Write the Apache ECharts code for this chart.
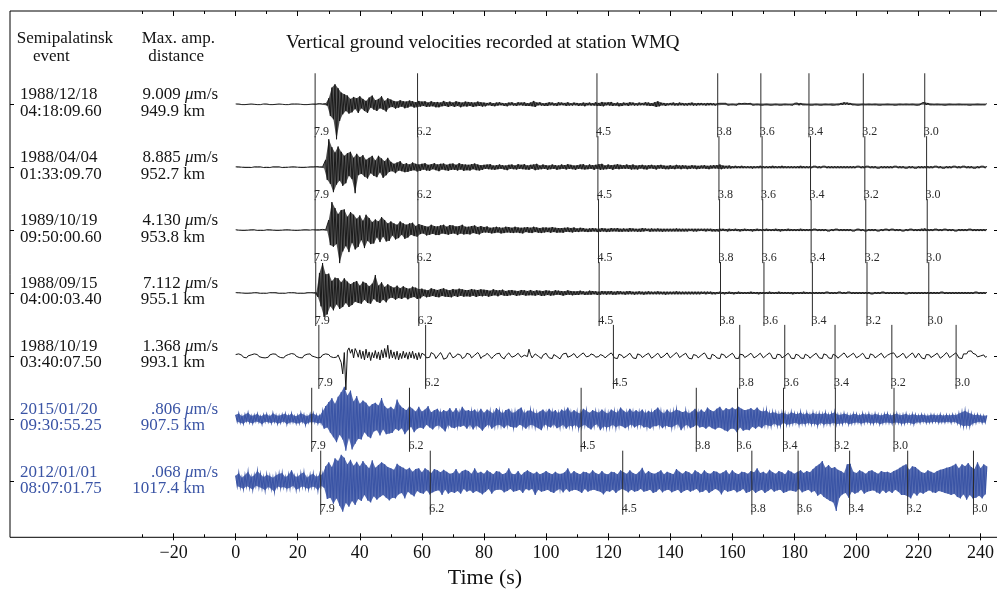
<!DOCTYPE html>
<html><head><meta charset="utf-8">
<script src="https://cdn.jsdelivr.net/npm/echarts@6/dist/echarts.min.js"></script>
<style>html,body{margin:0;padding:0;background:#fff}#c{width:997px;height:591px}</style>
</head><body><div id="c"></div>
<script>
// ---------------- data ----------------
const eventDates = ['1988/12/18','1988/04/04','1989/10/19','1988/09/15','1988/10/19','2015/01/20','2012/01/01'];
const eventTimes = ['04:18:09.60','01:33:09.70','09:50:00.60','04:00:03.40','03:40:07.50','09:30:55.25','08:07:01.75'];
const maxAmps = ['9.009','8.885','4.130','7.112','1.368','.806','.068'];
const distances = ['949.9','952.7','953.8','955.1','993.1','907.5','1017.4'];
const velocityLabels = ['7.9','6.2','4.5','3.8','3.6','3.4','3.2','3.0'];
// arrival time (s) of each group velocity on each trace
const markerTimes = [
  [25.6, 58.6, 116.4, 155.3, 169.2, 184.7, 202.2, 222.0],
  [25.6, 58.7, 116.7, 155.7, 169.6, 185.2, 202.7, 222.6],
  [25.6, 58.7, 116.9, 155.9, 169.8, 185.4, 203.0, 222.8],
  [25.8, 59.0, 117.1, 156.2, 170.2, 185.8, 203.4, 223.3],
  [26.8, 61.2, 121.7, 162.4, 176.9, 193.1, 211.4, 232.1],
  [24.5, 56.0, 111.3, 148.4, 161.7, 176.5, 193.2, 212.1],
  [27.4, 62.7, 124.7, 166.3, 181.2, 197.8, 216.5, 237.7]
];
const majorTicks = [-20,0,20,40,60,80,100,120,140,160,180,200,220,240];
const minorTicks = [-30,-10,10,30,50,70,90,110,130,150,170,190,210,230];
const traceTicks = [0,-1,-2,-3,-4,-5,-6];
const dt = 0.5; // sample interval of the waveforms (s), first sample at t = 0
// relative vertical velocity, each trace normalised to its own maximum (~100)
const wave1 = [
1,-1,1,0,-1,1,-1,1,0,-1, 1,-1,0,1,-1,1,-1,0,1,-1, 1,0,-1,1,-1,1,0,-1,1,-1, 0,1,-1,1,-1,0,1,-1,1,-1,
1,-1,0,1,-1,1,-1,1,0,-1, 1,-2,1,-1,2,-1,1,-2,2,-4, 18,-35,50,-45,60,-105,48,-50,35,-30, 30,-20,26,-28,16,-24,22,-14,18,-26,
24,-12,16,-20,10,-26,20,-10,26,-16, 12,-20,16,-12,24,-16,10,-22,18,-10, 14,-8,10,-13,8,-10,12,-7,9,-12, 8,-10,11,-6,9,-10,6,-9,10,-7,
8,-5,9,-8,5,-7,9,-6,6,-9, 7,-9,5,-6,10,-5,6,-8,8,-5, 5,-8,9,-5,7,-9,5,-6,8,-7, 7,-5,6,-8,5,-6,8,-5,6,-7,
5,-6,4,-3,6,-5,3,-6,5,-4, 6,-3,4,-5,3,-6,5,-3,6,-4, 3,-5,6,-3,5,-4,6,-5,3,-5, 5,-6,10,-8,5,-3,6,-4,3,-5,
4,-5,6,-3,5,-4,3,-5,6,-3, 5,-3,4,-5,6,-4,3,-4,5,-3, 4,-5,3,-4,5,-6,4,-3,5,-4, 3,-4,6,-5,4,-5,7,-6,5,-3,
6,-4,7,-5,3,-4,5,-6,3,-5, 5,-3,4,-5,6,-3,5,-4,3,-4, 5,-3,4,-3,6,-4,5,-5,3,-5, 6,-8,9,-6,5,-3,4,-5,3,-3,
4,-3,5,-4,3,-4,5,-3,4,-4, 3,-4,4,-3,5,-4,3,-4,4,-3, 4,-3,3,-4,4,-3,4,-3,3,-4, 2,-3,3,-2,3,-2,3,-3,2,-2,
3,-2,2,-3,3,-2,2,-2,3,-2, 2,-2,3,-3,2,-2,3,-2,2,-3, 2,-2,3,-2,2,-3,2,-2,3,-2, 2,-3,2,-2,3,-2,2,-2,2,-3,
3,-2,4,-3,4,-2,3,-2,2,-2, 2,-3,2,-2,3,-2,2,-3,2,-2, 3,-2,2,-2,3,-3,2,-2,3,-2, 4,-2,6,-1,5,-2,4,-2,3,-2,
2,-3,2,-2,3,-2,2,-2,3,-2, 2,-2,3,-2,2,-3,2,-2,2,-2, 3,-2,2,-2,2,-3,2,-2,3,-2, 2,-2,3,-2,2,-2,3,-2,2,-3,
2,-2,4,-1,6,-2,4,-2,3,-2, 2,-2,3,-2,2,-2,2,-3,2,-2, 3,-2,2,-2,2,-2,3,-2,2,-2, 2,-2,2,-3,2,-2,2,-2,3,-2,
2,-2,2,-2,2
];
const wave2 = [
1,-1,1,-1,0,1,-1,1,-1,1, -1,0,1,-1,1,-1,1,0,-1,1, -1,1,-1,0,1,-1,1,-1,1,0, -1,1,-1,1,0,-1,1,-1,1,-1,
0,1,-1,1,-1,1,0,-1,1,-1, 1,-1,2,-1,1,-2,1,-3,22,-38, 84,-50,60,-75,44,-52,62,-40,46,-56, 34,-48,42,-26,46,-36,28,-78,40,-24,
30,-20,36,-28,22,-34,28,-18,34,-26, 20,-30,34,-16,26,-32,18,-24,28,-14, 16,-12,10,-18,14,-10,18,-12,9,-15, 12,-14,8,-11,14,-9,10,-13,8,-11,
10,-7,12,-10,7,-11,9,-6,12,-9, 8,-12,10,-7,11,-9,7,-11,10,-8, 11,-8,7,-10,12,-7,9,-11,8,-9, 7,-10,9,-6,11,-9,8,-10,6,-8,
7,-5,8,-6,9,-7,5,-8,6,-6, 8,-5,6,-7,5,-9,7,-5,8,-6, 5,-7,9,-5,7,-6,9,-7,5,-8, 7,-5,8,-9,10,-7,5,-6,8,-5,
6,-8,5,-6,8,-5,6,-8,5,-6, 8,-5,6,-7,9,-5,7,-6,5,-8, 6,-5,8,-6,9,-7,5,-6,8,-5, 6,-8,7,-5,9,-8,10,-7,5,-6,
8,-5,6,-8,7,-5,9,-6,7,-5, 6,-5,8,-5,6,-7,8,-6,5,-7, 6,-4,7,-6,5,-7,6,-4,7,-5, 5,-7,6,-4,7,-5,5,-6,4,-6,
6,-5,4,-6,7,-4,5,-6,6,-4, 5,-6,4,-5,6,-4,5,-6,4,-5, 5,-4,6,-5,4,-6,5,-4,6,-4, 6,-5,8,-6,5,-4,4,-4,5,-4,
3,-3,4,-3,3,-3,4,-3,3,-3, 3,-3,3,-4,3,-3,3,-3,4,-3, 3,-3,3,-3,3,-3,4,-3,3,-3, 3,-3,4,-3,3,-3,3,-3,3,-3,
3,-3,3,-3,4,-3,3,-3,3,-3, 3,-3,3,-2,3,-3,3,-3,3,-2, 3,-3,3,-3,3,-3,3,-3,3,-3, 3,-3,3,-3,3,-3,3,-3,3,-3,
3,-2,3,-3,3,-3,3,-2,3,-3, 3,-3,3,-3,2,-3,3,-3,3,-3, 3,-3,3,-3,3,-2,3,-3,3,-3, 3,-3,2,-3,3,-3,3,-3,2,-3,
3,-3,3,-3,3,-3,3,-3,3,-3, 3,-2,3,-3,3,-3,2,-3,3,-3, 3,-3,3,-2,3,-3,3,-3,3,-2, 3,-3,3,-3,3,-3,2,-3,3,-3,
3,-2,3,-3,3
];
const wave3 = [
1,-1,0,1,-1,1,-1,1,0,-1, 1,-1,1,0,-1,1,-1,1,-1,0, 1,-1,1,-1,0,1,-1,1,-1,1, 0,-1,1,-1,1,-1,0,1,-1,1,
-1,1,0,-1,1,-1,1,-1,0,1, 1,-1,1,-2,1,-1,2,-1,1,-3, 30,-45,84,-50,66,-42,48,-99,60,-64, 62,-48,40,-66,54,-38,46,-58,34,-50,
44,-30,28,-54,46,-32,36,-42,24,-40, 32,-22,26,-36,39,-20,30,-34,20,-32, 26,-16,20,-28,16,-24,26,-14,20,-26, 16,-22,20,-14,22,-18,12,-20,18,-12,
15,-10,12,-16,10,-14,16,-11,12,-15, 11,-15,14,-10,16,-12,10,-14,15,-11, 14,-10,11,-15,12,-10,16,-13,10,-12, 10,-13,12,-9,14,-11,9,-13,12,-8,
9,-7,11,-8,7,-10,8,-9,10,-7, 8,-10,7,-9,10,-7,9,-8,7,-9, 10,-7,8,-9,7,-10,8,-6,9,-8, 7,-9,10,-6,8,-8,6,-9,8,-7,
8,-6,7,-8,9,-6,7,-8,6,-7, 6,-8,7,-5,8,-6,6,-7,8,-5, 5,-6,7,-4,6,-5,4,-6,5,-5, 6,-4,5,-6,4,-5,6,-4,5,-6,
4,-5,6,-4,5,-4,6,-5,4,-5, 5,-4,4,-5,6,-4,5,-4,4,-5, 4,-5,6,-4,5,-3,4,-5,5,-4, 4,-4,5,-4,4,-5,4,-4,4,-4,
4,-4,4,-4,5,-4,4,-4,4,-4, 4,-4,4,-3,4,-4,4,-4,4,-3, 4,-3,4,-4,4,-3,4,-4,3,-4, 3,-4,4,-3,4,-3,3,-4,4,-3,
3,-3,4,-3,3,-4,3,-3,4,-3, 3,-3,3,-4,3,-3,4,-3,3,-3, 3,-3,4,-3,3,-3,3,-3,4,-3, 3,-4,3,-3,3,-3,4,-3,3,-3,
3,-3,3,-3,4,-3,3,-3,3,-3, 3,-3,3,-2,3,-3,3,-3,3,-3, 3,-3,2,-3,3,-3,3,-2,3,-3, 3,-3,3,-3,3,-3,3,-3,2,-3,
3,-2,3,-3,3,-3,2,-3,3,-3, 3,-3,3,-3,2,-3,3,-3,3,-2, 3,-3,3,-2,3,-3,3,-3,3,-3, 2,-3,3,-3,3,-2,3,-3,3,-3,
3,-3,4,-3,5,-3,3,-3,3,-3, 3,-2,3,-3,3,-3,3,-2,3,-3, 3,-3,3,-3,2,-3,3,-3,3,-3, 3,-3,3,-2,3,-3,3,-3,3,-3,
3,-3,3,-3,3
];
const wave4 = [
1,-1,1,-1,0,1,-1,1,-1,1, 0,-1,1,-1,1,0,-1,1,-1,1, -1,0,1,-1,1,-1,1,0,-1,1, -1,1,-1,0,1,-1,1,-1,1,0,
-1,1,-1,1,-1,0,1,-1,1,-1, 1,-2,1,-12,60,-40,90,-72,56,-64, 58,-40,36,-52,46,-34,44,-48,32,-42, 44,-30,34,-42,26,-36,32,-26,36,-30,
22,-32,34,-20,30,-30,20,-32,28,-18, 54,-26,22,-30,32,-20,18,-28,26,-16, 20,-14,16,-20,22,-15,14,-18,20,-13, 15,-19,13,-14,19,-12,16,-18,12,-16,
13,-9,10,-13,8,-11,14,-9,11,-12, 9,-13,12,-9,14,-11,10,-12,8,-13, 12,-9,10,-12,13,-8,11,-11,9,-10, 9,-11,12,-8,10,-12,9,-9,11,-10,
10,-8,9,-11,7,-9,11,-7,8,-10, 8,-6,10,-8,6,-9,8,-7,9,-6, 7,-9,6,-7,9,-6,8,-8,6,-7, 9,-7,6,-8,8,-6,7,-9,6,-8,
8,-6,7,-8,5,-7,8,-5,7,-6, 6,-8,5,-6,8,-5,6,-7,5,-6, 5,-6,7,-4,5,-6,4,-5,7,-5, 6,-4,5,-6,4,-5,6,-4,5,-5,
5,-4,6,-5,4,-5,6,-4,5,-4, 4,-5,5,-4,6,-4,4,-5,4,-4, 5,-4,4,-5,4,-4,5,-4,4,-4, 4,-4,5,-4,4,-4,4,-5,4,-4,
4,-4,4,-4,5,-4,4,-4,4,-4, 4,-4,4,-4,4,-4,4,-4,4,-4, 4,-3,4,-4,4,-3,4,-4,3,-4, 3,-3,4,-3,3,-4,3,-3,4,-3,
3,-4,3,-3,4,-3,3,-3,3,-3, 3,-3,4,-3,3,-3,3,-4,3,-3, 3,-3,3,-3,4,-3,3,-3,3,-3, 4,-3,3,-3,3,-3,3,-3,3,-4,
3,-3,3,-3,3,-3,4,-3,3,-3, 3,-3,3,-3,3,-3,3,-3,3,-3, 3,-2,3,-3,3,-3,3,-3,3,-2, 3,-3,3,-3,3,-2,3,-3,3,-3,
3,-3,3,-3,3,-3,3,-3,3,-3, 2,-3,3,-3,3,-3,3,-2,3,-3, 3,-3,3,-3,3,-3,3,-3,3,-3, 3,-3,2,-3,3,-3,3,-3,3,-3,
3,-3,3,-3,3,-3,3,-3,3,-3, 3,-3,3,-3,3,-2,3,-3,3,-3, 3,-3,3,-3,3,-3,3,-3,3,-3, 3,-3,3,-3,3,-3,3,-2,3,-3,
3,-3,3,-3,3
];
const wave5 = [
4,-1,6,1,2,-4,-2,-6,0,-3, 3,-1,6,2,4,-2,0,-5,-3,-6, -1,-4,3,0,6,2,5,-1,1,-5, -3,-6,0,-2,4,1,7,3,5,-1,
1,-5,-2,-6,1,-2,5,2,6,0, 3,-3,-1,-6,-2,-4,3,0,6,2, 4,-2,0,-5,-2,-4,3,-1,-20,-54, 10,-102,15,24,8,20,-6,22,12,-4,
18,-8,14,-12,20,-6,12,-14,10,-6, 16,-8,12,-12,18,-6,22,-4,32,-8, 18,-6,12,-10,14,-12,8,-8,14,-6, 10,-10,12,-6,14,-8,8,-12,10,-8,
8,12,2,-6,-10,-4,10,12,4,-8, -4,4,10,2,-10,-15,-6,4,10,2, -6,-10,0,6,10,2,-8,-11,-2,8, 10,4,-6,-9,2,-3,10,4,-8,-2,
-6,2,8,4,-2,-8,-2,-6,6,2, 8,-2,-4,-9,0,4,9,2,-4,-7, 0,-5,8,3,-4,-8,2,6,-2,20, 4,-6,0,6,8,-1,-6,-8,2,6,
8,0,-6,-2,-8,4,7,-2,-6,-9, 0,6,3,8,-4,-9,0,-4,7,2, -6,-8,2,-2,9,4,-3,-8,0,6, 9,2,-4,-9,-2,4,8,0,-6,-9,
2,-2,9,3,-6,-3,-8,5,8,1, -6,-9,0,-4,8,4,-6,-2,-8,6, 9,2,-5,-8,2,-3,8,3,-7,-9, 0,-4,8,2,-6,-8,0,-4,9,4,
-6,-9,2,-2,10,4,-5,-8,2,6, 8,0,-7,-3,-9,4,8,1,-6,-8, 2,-3,9,3,-7,-4,-9,5,8,0, -6,-2,-8,6,9,2,-6,-9,1,-3,
8,2,-7,-2,-8,5,9,3,-5,-8, 1,-3,8,2,-6,-9,0,-4,8,3, -6,-8,2,-3,9,3,-7,-3,-8,5, 9,3,-6,-9,0,-4,8,2,-7,-2,
-8,5,9,1,-6,-3,-8,5,8,0, -7,-9,1,-3,8,3,-6,-2,-8,6, 9,2,-6,-2,-8,5,8,0,-7,-9, 1,-3,9,3,-5,-8,1,-3,8,2,
-6,-9,0,-4,8,2,-7,-2,-8,6, 9,2,-6,-9,1,-3,8,3,-6,-8, 2,-2,7,2,9,3,-5,-8,0,-4, 8,2,-7,-9,1,-3,9,3,-6,-2,
8,2,-6,-2,-9,4,9,3,-5,-8, 1,-3,8,1,-7,-9,0,-3,10,4, -5,-8,2,-2,9,3,-6,-2,-8,6, 10,6,14,9,15,8,12,4,-3,-6,
0,5,3,-4,-2
];
const wave6 = [
12,-9,16,-12,8,-15,13,-7,18,-11, 9,-14,11,-8,15,-10,7,-16,12,-9, 14,-10,8,-13,17,-9,11,-15,9,-12, 13,-8,15,-16,9,-11,16,-10,8,-14,
10,-13,17,-9,12,-18,8,-11,14,-10, 16,-10,11,-14,9,-12,22,-30,38,-26, 50,-42,62,-55,45,-70,66,-48,80,-62, 96,-96,70,-58,85,-92,52,-75,68,-60,
45,-62,55,-40,48,-52,36,-58,44,-38, 48,-34,40,-50,62,-32,38,-46,30,-44, 36,-42,28,-30,58,-36,40,-28,32,-46, 26,-34,38,-24,30,-40,22,-30,36,-26,
22,-30,28,-18,38,-26,20,-32,26,-22, 30,-20,18,-28,26,-38,22,-18,32,-26, 20,-28,32,-22,18,-24,36,-20,24,-30, 26,-18,22,-32,28,-20,18,-26,30,-36,
18,-24,28,-16,22,-30,16,-22,32,-18, 24,-20,16,-28,26,-18,30,-24,18,-26, 20,-26,28,-18,34,-22,16,-30,24,-20, 26,-18,20,-24,16,-28,22,-34,28,-16,
18,-22,30,-26,20,-16,26,-28,16,-24, 28,-18,22,-30,34,-20,18,-24,26,-18, 20,-28,16,-22,30,-18,24,-26,18,-32, 26,-20,22,-16,18,-34,28,-22,20,-26,
16,-24,28,-18,22,-26,18,-20,34,-22, 24,-28,18,-22,30,-16,20,-26,26,-20, 20,-18,28,-26,16,-24,24,-30,18,-22, 26,-22,34,-18,22,-28,16,-20,28,-24,
18,-26,22,-20,28,-16,24,-34,20,-22, 24,-18,16,-28,22,-24,30,-18,18,-26, 28,-24,20,-30,34,-22,26,-28,22,-32, 30,-26,36,-28,24,-34,32,-38,28,-30,
34,-30,28,-40,36,-26,30,-36,26,-32, 28,-34,32,-24,26,-30,34,-22,24,-28, 22,-18,26,-20,16,-22,20,-14,18,-20, 14,-20,18,-12,16,-18,12,-16,20,-14,
16,-12,14,-18,20,-14,12,-16,18,-12, 12,-16,18,-14,14,-20,16,-12,14,-18, 18,-14,12,-16,16,-12,20,-16,12,-14, 12,-15,16,-10,13,-16,10,-14,15,-12,
14,-11,10,-15,16,-12,12,-10,15,-13, 11,-14,15,-10,12,-16,10,-13,14,-11, 15,-12,10,-14,13,-11,16,-12,11,-15, 12,-14,15,-11,10,-13,14,-16,12,-10,
10,-12,13,-9,11,-12,9,-11,12,-10, 12,-9,10,-12,13,-10,9,-11,12,-9, 10,-12,13,-9,11,-13,16,-18,20,-22, 24,-20,18,-22,15,-14,11,-12,13,-9,
10,-12,9,-11,10
];
const wave7 = [
18,-14,26,-17,12,-22,20,-13,30,-18, 14,-24,19,-12,32,-16,22,-20,13,-26, 21,-15,17,-22,12,-30,19,-14,24,-18, 26,-16,13,-21,20,-18,34,-12,16,-24,
15,-20,24,-14,28,-18,12,-22,20,-15, 24,-16,14,-26,20,-12,22,-18,46,-52, 58,-48,44,-66,70,-50,62,-72,81,-90, 72,-64,52,-75,66,-58,48,-70,60,-52,
46,-58,62,-40,50,-56,40,-62,64,-44, 42,-54,50,-46,58,-40,52,-48,44,-56, 40,-48,36,-50,54,-38,46,-34,42,-50, 36,-30,42,-38,30,-44,38,-28,40,-34,
28,-36,40,-26,34,-38,26,-32,38,-28, 34,-26,28,-40,36,-24,30,-36,24,-30, 26,-34,38,-28,24,-36,32,-22,36,-30, 32,-26,24,-34,40,-28,26,-32,30,-38,
24,-30,34,-22,28,-36,22,-26,32,-24, 30,-24,22,-32,26,-28,40,-22,24,-30, 22,-28,32,-24,20,-34,28,-22,34,-26, 28,-22,24,-40,30,-24,22,-30,26,-28,
32,-24,26,-30,22,-34,30,-26,24,-22, 24,-32,28,-22,40,-30,24,-26,32,-24, 26,-28,22,-34,30,-22,28,-30,24,-26, 34,-24,26,-28,22,-30,32,-38,24,-28,
22,-30,30,-24,28,-34,22,-26,34,-22, 28,-26,24,-32,34,-24,26,-30,22,-28, 30,-22,42,-30,24,-28,32,-24,26,-34, 24,-30,28,-22,34,-32,22,-26,30,-24,
26,-32,22,-28,38,-24,30,-34,24,-28, 32,-24,28,-30,22,-26,34,-22,28,-32, 22,-30,34,-24,26,-34,24,-28,32,-22, 30,-26,24,-38,28,-24,34,-30,22,-28,
34,-24,26,-32,22,-28,30,-22,28,-34, 24,-30,32,-24,28,-34,40,-28,26,-24, 30,-34,24,-28,36,-22,28,-30,24,-26, 32,-24,28,-34,22,-30,34,-26,30,-28,
24,-30,30,-22,34,-32,26,-28,32,-24, 28,-32,38,-28,46,-42,52,-36,62,-46, 42,-52,50,-58,40,-62,44,-88,36,-48, 32,-38,26,-34,52,-48,54,-30,30,-36,
26,-32,34,-24,30,-36,24,-30,32,-28, 34,-26,28,-32,24,-36,32,-26,28,-34, 30,-28,26,-34,32,-24,36,-30,42,-40, 48,-40,52,-44,36,-50,46,-34,44,-42,
36,-32,28,-36,26,-30,34,-26,30,-32, 26,-34,32,-28,36,-30,38,-34,42,-36, 44,-40,48,-36,54,-46,40,-50,52,-38, 46,-54,56,-40,44,-50,38,-48,58,-42,
40,-50,52,-38,46
];
const waves = [wave1, wave2, wave3, wave4, wave5, wave6, wave7];

// ---------------- styling ----------------
const BLACK = '#141414';
const BLUE = '#3a54a5';
const traceColors = [BLACK, BLACK, BLACK, BLACK, BLACK, BLUE, BLUE];
const traceWidths = [0.9, 0.9, 0.9, 0.9, 1.0, 1.1, 1.1];
// translucent fill between successive peaks and troughs (dense, high-frequency traces)
const fillOpacity = [0.72, 0.72, 0.72, 0.72, 0, 0.85, 0.85];
const FONT = '"Liberation Serif", "Times New Roman", serif';
const GAIN = 1 / (3 * 62.9);   // amplitude unit -> trace spacing
const X_MIN = -72.7, X_MAX = 245.6, Y_MIN = -6.884, Y_MAX = 1.483;

const chart = echarts.init(document.getElementById('c'), null, {renderer: 'canvas'});

const series = [];
waves.forEach((w, k) => {
  if (fillOpacity[k] > 0) {
    series.push({
      type: 'custom', xAxisIndex: 0, yAxisIndex: 0,
      data: [[k]], silent: true, animation: false, z: 2,
      renderItem: function (params, api) {
        const kk = api.value(0);
        const up = [], lo = [];
        waves[kk].forEach((v, i) => {
          const p = api.coord([i * dt, -kk + v * GAIN]);
          if (i % 2 === 0) up.push(p); else lo.push(p);
        });
        return {type: 'polygon', shape: {points: up.concat(lo.reverse())},
          style: {fill: traceColors[kk], opacity: fillOpacity[kk]}};
      }
    });
  }
  series.push({
    type: 'line', xAxisIndex: 0, yAxisIndex: 0,
    data: w.map((v, i) => [i * dt, -k + v * GAIN]),
    showSymbol: false, symbol: 'none', silent: true, animation: false,
    lineStyle: {color: traceColors[k], width: traceWidths[k], join: 'miter'}, z: 3
  });
});

const markerData = [];
markerTimes.forEach((row, k) => row.forEach((t, j) => markerData.push([t, k, j])));
series.push({
  type: 'custom',
  xAxisIndex: 0, yAxisIndex: 0,
  data: markerData,
  silent: true, animation: false, z: 4,
  renderItem: function (params, api) {
    const t = api.value(0), k = api.value(1), j = api.value(2);
    const p1 = api.coord([t, -k + 0.493]);
    const p2 = api.coord([t, -k - 0.525]);
    const pl = api.coord([t, -k - 0.435]);
    return {type: 'group', children: [
      {type: 'line', shape: {x1: p1[0], y1: p1[1], x2: p2[0], y2: p2[1]},
       style: {stroke: '#2a2a2a', lineWidth: 1}},
      {type: 'text', x: pl[0] - 1, y: pl[1],
       style: {text: velocityLabels[j], fill: '#2a2a2a', font: '12px ' + FONT,
               align: 'left', verticalAlign: 'middle'}}
    ]};
  }
});

function xAx(pos, ticks, len, inside, labels) {
  return {
    type: 'value', position: pos, min: X_MIN, max: X_MAX, gridIndex: 0,
    axisLine: {show: false, onZero: false},
    axisTick: {show: true, inside: inside, length: len, customValues: ticks,
               lineStyle: {color: '#000', width: 1}},
    axisLabel: labels ? {show: true, customValues: majorTicks, margin: 7,
      fontFamily: FONT, fontSize: 18, color: '#111',
      formatter: v => (v < 0 ? '\u2212' + Math.abs(v) : String(v))} : {show: false},
    splitLine: {show: false}
  };
}
function yAx(pos) {
  return {
    type: 'value', position: pos, min: Y_MIN, max: Y_MAX, gridIndex: 0,
    axisLine: {show: false, onZero: false},
    axisTick: {show: true, inside: true, length: 4, customValues: traceTicks,
               lineStyle: {color: '#000', width: 1}},
    axisLabel: {show: false}, splitLine: {show: false}
  };
}

chart.setOption({
  backgroundColor: '#fff',
  animation: false,
  grid: {left: 10, top: 11, width: 988, height: 526.3, show: true,
         borderColor: '#000', borderWidth: 1, backgroundColor: 'transparent',
         containLabel: false, outerBoundsMode: 'none'},
  xAxis: [
    xAx('bottom', majorTicks, 4, true, true),
    xAx('bottom', minorTicks, 3, true, false),
    xAx('bottom', majorTicks, 3, false, false),
    xAx('top', majorTicks, 5, true, false),
    xAx('top', minorTicks, 3, true, false)
  ],
  yAxis: [yAx('left'), yAx('right')],
  series: series
});

// ---------------- texts ----------------
const g = [];
function txt(x, y, text, opt) {
  g.push({type: 'text', x: x, y: y, silent: true, z: 10,
    style: Object.assign({text: text, fill: '#111', font: '17px ' + FONT,
      align: 'left', verticalAlign: 'middle'}, opt || {})});
}
txt(286, 43, 'Vertical ground velocities recorded at station WMQ', {font: '19px ' + FONT});
txt(16.7, 38.3, 'Semipalatinsk');
txt(33, 56.7, 'event');
txt(141.7, 38.3, 'Max. amp.');
txt(148.3, 56.7, 'distance');
eventDates.forEach((d, k) => {
  const y = chart.convertToPixel({xAxisIndex: 0, yAxisIndex: 0}, [0, -k])[1];
  const c = traceColors[k];
  txt(20, y - 9.5, d, {fill: c});
  txt(20, y + 7, eventTimes[k], {fill: c});
  txt(218, y - 9.5, '{n|' + maxAmps[k] + ' }{m|\u03bc}{n|m/s}', {
    fill: c, align: 'right',
    rich: {n: {font: '17px ' + FONT, fill: c}, m: {font: 'italic 17px ' + FONT, fill: c}}
  });
  txt(205, y + 7, distances[k] + ' km', {fill: c, align: 'right'});
});
txt(485, 578, 'Time (s)', {font: '22px ' + FONT, align: 'center'});
chart.setOption({graphic: {elements: g}});
</script>
</body></html>
